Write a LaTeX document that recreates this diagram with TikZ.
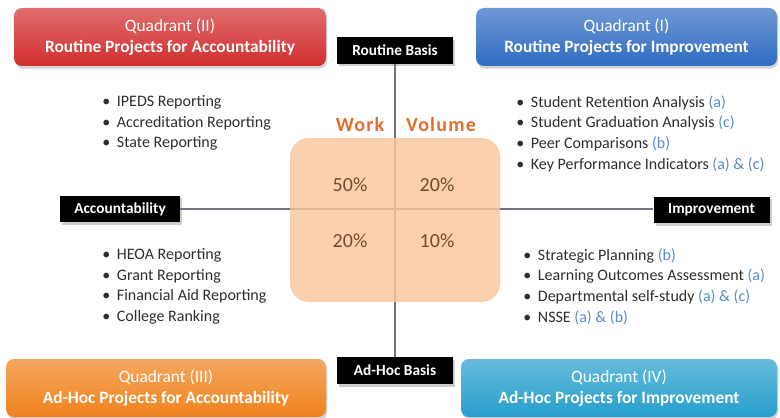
\documentclass[tikz,border=0pt]{standalone}
\usepackage{fontspec}
\setmainfont{Carlito}
\usetikzlibrary{shadows}

\definecolor{qred}{RGB}{210,46,46}
\definecolor{qblue}{RGB}{48,108,194}
\definecolor{qorange}{RGB}{240,130,28}
\definecolor{qcyan}{RGB}{38,158,204}
\definecolor{pad}{RGB}{249,198,156}
\definecolor{worktxt}{RGB}{226,110,46}
\definecolor{pcttxt}{RGB}{118,74,44}
\definecolor{refblue}{RGB}{88,138,204}
\definecolor{axisline}{RGB}{115,115,125}

\newcommand\refs[1]{\textcolor{refblue}{#1}}

\begin{document}
\begin{tikzpicture}[x=0.75pt, y=-0.75pt,
    quad/.style = {rounded corners=6pt, top color=#1!70!white, bottom color=#1,
        minimum height=43.5pt, align=center, text=white,
        font=\fontsize{13}{16}\selectfont,
        drop shadow={shadow xshift=1pt, shadow yshift=-2pt, opacity=0.35}},
    axis/.style = {fill=black, text=white, minimum width=87pt, minimum height=20pt,
        font=\bfseries\fontsize{11.5}{13}\selectfont,
        drop shadow={shadow xshift=1.5pt, shadow yshift=-2pt, opacity=0.4}},
    item/.style = {anchor=west, inner sep=0pt, text height=1.5ex, text depth=.25ex,
        text=black!82, font=\fontsize{12}{14}\selectfont},
    pct/.style = {text=pcttxt, font=\fontsize{15}{17}\selectfont},
    wv/.style = {text=worktxt, font=\bfseries\fontsize{15}{17}\selectfont\addfontfeatures{LetterSpace=6}}]
  \useasboundingbox (0,0) rectangle (780,417);

  % quadrant headers
  \node[quad=qred, minimum width=234pt] (q2) at (170,37) {Quadrant (II)\\\textbf{Routine Projects for Accountability}};
  \node[quad=qblue, minimum width=225.75pt] (q1) at (626.5,37) {Quadrant (I)\\\textbf{Routine Projects for Improvement}};
  \node[quad=qorange, minimum width=240pt] (q3) at (166,388) {Quadrant (III)\\\textbf{Ad-Hoc Projects for Accountability}};
  \node[quad=qcyan, minimum width=237pt] (q4) at (619,388) {Quadrant (IV)\\\textbf{Ad-Hoc Projects for Improvement}};

  % axes
  \node[axis] (rb) at (395,50.5) {Routine Basis};
  \node[axis] (ab) at (395,370.5) {Ad-Hoc Basis};
  \node[axis, minimum width=90pt] (acc) at (120,209) {Accountability};
  \node[axis] (imp) at (711.5,210) {Improvement};
  \draw[axisline, line width=1.2pt] (rb) -- (ab);
  \draw[axisline, line width=1.2pt] (acc.east) -- (imp.west |- acc.east);

  % work volume pad
  \fill[pad, fill opacity=0.82, rounded corners=14pt] (290,138) rectangle (500,302);
  \node[wv] (work) at (360,125) {Work};
  \node[wv] (vol) at (441,125) {Volume};
  \node[pct] (p1) at (350,185) {50\%};
  \node[pct] (p2) at (437,185) {20\%};
  \node[pct] (p3) at (350,241) {20\%};
  \node[pct] (p4) at (437,241) {10\%};

  % project lists
  \foreach \t [count=\i] in {IPEDS Reporting, Accreditation Reporting, State Reporting}
    \node[item] (a\i) at (102,82.5+20.5*\i) {\makebox[11pt][l]{\textbullet}\t};
  \foreach \t [count=\i] in {HEOA Reporting, Grant Reporting, Financial Aid Reporting, College Ranking}
    \node[item] (b\i) at (102,235.5+20.5*\i) {\makebox[11pt][l]{\textbullet}\t};
  \foreach \t [count=\i] in {Student Retention Analysis \refs{(a)}, Student Graduation Analysis \refs{(c)},
      Peer Comparisons \refs{(b)}, Key Performance Indicators \refs{(a) \& (c)}}
    \node[item] (c\i) at (516,82.5+20.7*\i) {\makebox[11pt][l]{\textbullet}\t};
  \foreach \t [count=\i] in {Strategic Planning \refs{(b)}, Learning Outcomes Assessment \refs{(a)},
      Departmental self-study \refs{(a) \& (c)}, NSSE \refs{(a) \& (b)}}
    \node[item] (d\i) at (523,235.5+20.7*\i) {\makebox[11pt][l]{\textbullet}\t};
\end{tikzpicture}
\end{document}
